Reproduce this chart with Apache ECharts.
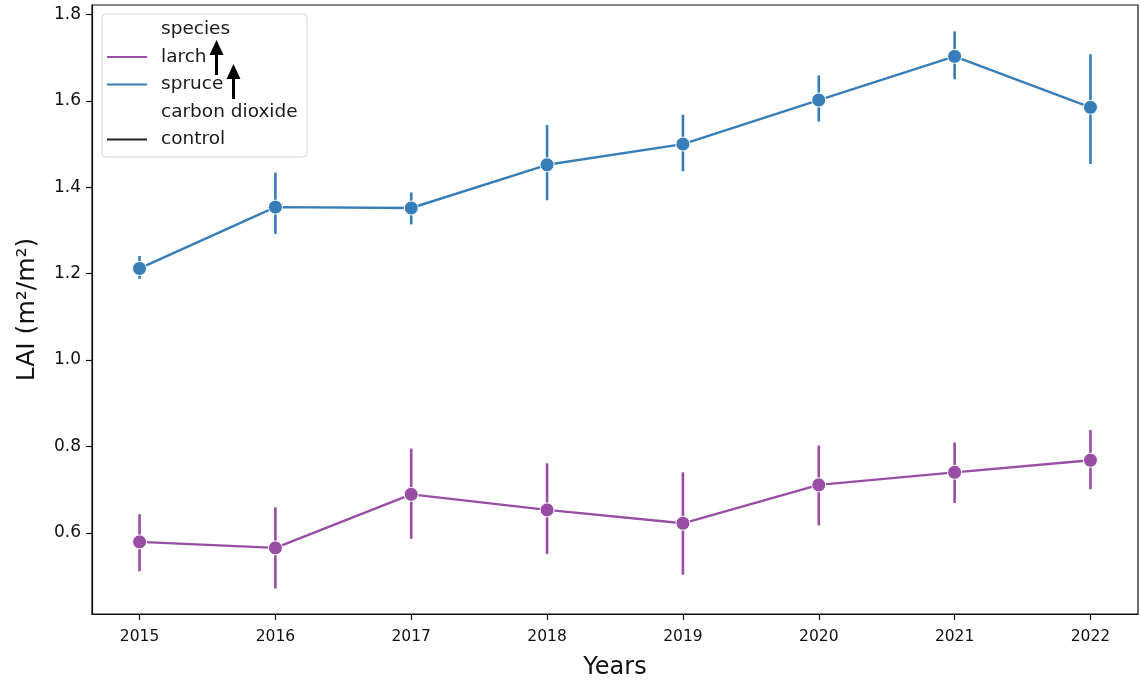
<!DOCTYPE html>
<html>
<head>
<meta charset="utf-8">
<script src="https://cdn.jsdelivr.net/npm/echarts@6/dist/echarts.min.js"></script>
<style>
  html, body { margin: 0; padding: 0; background: #fff; }
  #chart { width: 1141px; height: 681px; }
</style>
</head>
<body>
<div id="chart"></div>
<script>
// Yearly leaf area index per species, mean with confidence interval
const years = [2015, 2016, 2017, 2018, 2019, 2020, 2021, 2022];

const spruceMean = [1.212, 1.354, 1.352, 1.452, 1.500, 1.602, 1.703, 1.585];
const spruceLow  = [1.188, 1.292, 1.314, 1.370, 1.437, 1.552, 1.650, 1.454];
const spruceHigh = [1.241, 1.434, 1.388, 1.544, 1.568, 1.659, 1.761, 1.708];

const larchMean = [0.579, 0.565, 0.689, 0.653, 0.622, 0.711, 0.740, 0.768];
const larchLow  = [0.511, 0.471, 0.586, 0.551, 0.503, 0.617, 0.669, 0.701];
const larchHigh = [0.643, 0.659, 0.795, 0.761, 0.740, 0.802, 0.809, 0.838];

const yTicks = [0.6, 0.8, 1.0, 1.2, 1.4, 1.6, 1.8];

const legendRows = ['species', 'larch', 'spruce', 'carbon dioxide', 'control'];

const LARCH = '#984ea3';
const SPRUCE = '#377eb8';
const FONT = 'DejaVu Sans';

function pointSeries(name, means, color) {
  return {
    name: name,
    type: 'line',
    data: years.map((y, i) => [y, means[i]]),
    symbol: 'circle',
    symbolSize: 14,
    z: 4,
    lineStyle: { color: color, width: 2.4 },
    itemStyle: { color: color, borderColor: '#fff', borderWidth: 1 },
    emphasis: { disabled: true },
    animation: false
  };
}

function errorSeries(name, lows, highs, color) {
  return {
    name: name + ' ci',
    type: 'custom',
    data: years.map((y, i) => [y, lows[i], highs[i]]),
    z: 3,
    renderItem: function (params, api) {
      const a = api.coord([api.value(0), api.value(1)]);
      const b = api.coord([api.value(0), api.value(2)]);
      return {
        type: 'line',
        shape: { x1: a[0], y1: a[1], x2: b[0], y2: b[1] },
        style: { stroke: color, lineWidth: 2.6 }
      };
    },
    animation: false
  };
}

// legend drawn as a framed box with section headers and two arrows
const legendX = 102, legendY = 14, rowY = [29.5, 57, 84.5, 112, 139.5];
const handleColors = [null, LARCH, SPRUCE, null, '#222'];
const legendGraphics = [{
  type: 'rect',
  shape: { x: legendX, y: legendY, width: 205, height: 143, r: 4 },
  style: { fill: 'rgba(255,255,255,0.85)', stroke: '#d6d6d6', lineWidth: 1 },
  z: 10
}];
legendRows.forEach((label, i) => {
  if (handleColors[i]) {
    legendGraphics.push({
      type: 'line',
      shape: { x1: 107, y1: rowY[i], x2: 147, y2: rowY[i] },
      style: { stroke: handleColors[i], lineWidth: 2.2 },
      z: 11
    });
  }
  legendGraphics.push({
    type: 'text',
    x: 161, y: rowY[i],
    style: { text: label, fontFamily: FONT, fontSize: 18.5, fill: '#1a1a1a', verticalAlign: 'middle' },
    z: 11
  });
});
[[216.5, 75, 40], [233.5, 99, 64]].forEach(([x, yb, yt]) => {
  legendGraphics.push({
    type: 'line',
    shape: { x1: x, y1: yb, x2: x, y2: yt + 12 },
    style: { stroke: '#000', lineWidth: 3 },
    z: 12
  });
  legendGraphics.push({
    type: 'polygon',
    shape: { points: [[x - 7, yt + 15], [x + 7, yt + 15], [x, yt]] },
    style: { fill: '#000' },
    z: 12
  });
});

const chart = echarts.init(document.getElementById('chart'), null, { renderer: 'canvas' });
chart.setOption({
  backgroundColor: '#fff',
  animation: false,
  textStyle: { fontFamily: FONT },
  grid: {
    left: 92, right: 3, top: 5, bottom: 67,
    containLabel: false,
    outerBoundsMode: 'none',
    show: true, borderColor: '#111', borderWidth: 1.2, backgroundColor: 'transparent'
  },
  xAxis: {
    type: 'value',
    min: 2014.65,
    max: 2022.35,
    name: 'Years',
    nameLocation: 'middle',
    nameGap: 42,
    nameTextStyle: { fontFamily: FONT, fontSize: 24, color: '#111' },
    axisLine: { show: true, lineStyle: { color: '#111', width: 1.2 } },
    axisTick: { show: true, length: 6, customValues: years, lineStyle: { color: '#111', width: 1.2 } },
    axisLabel: { customValues: years, margin: 15, fontFamily: FONT, fontSize: 15.5, color: '#111', formatter: v => String(v) },
    splitLine: { show: false }
  },
  yAxis: {
    type: 'value',
    min: 0.412,
    max: 1.822,
    name: 'LAI (m²/m²)',
    nameLocation: 'middle',
    nameGap: 52,
    nameRotate: 90,
    nameTextStyle: { fontFamily: FONT, fontSize: 25, color: '#111' },
    axisLine: { show: true, lineStyle: { color: '#111', width: 1.2 } },
    axisTick: { show: true, length: 6, customValues: yTicks, lineStyle: { color: '#111', width: 1.2 } },
    axisLabel: { customValues: yTicks, margin: 11, fontFamily: FONT, fontSize: 17, color: '#111', formatter: v => v.toFixed(1) },
    splitLine: { show: false }
  },
  series: [
    errorSeries('larch', larchLow, larchHigh, LARCH),
    errorSeries('spruce', spruceLow, spruceHigh, SPRUCE),
    pointSeries('larch', larchMean, LARCH),
    pointSeries('spruce', spruceMean, SPRUCE)
  ],
  graphic: { elements: legendGraphics }
});
</script>
</body>
</html>
